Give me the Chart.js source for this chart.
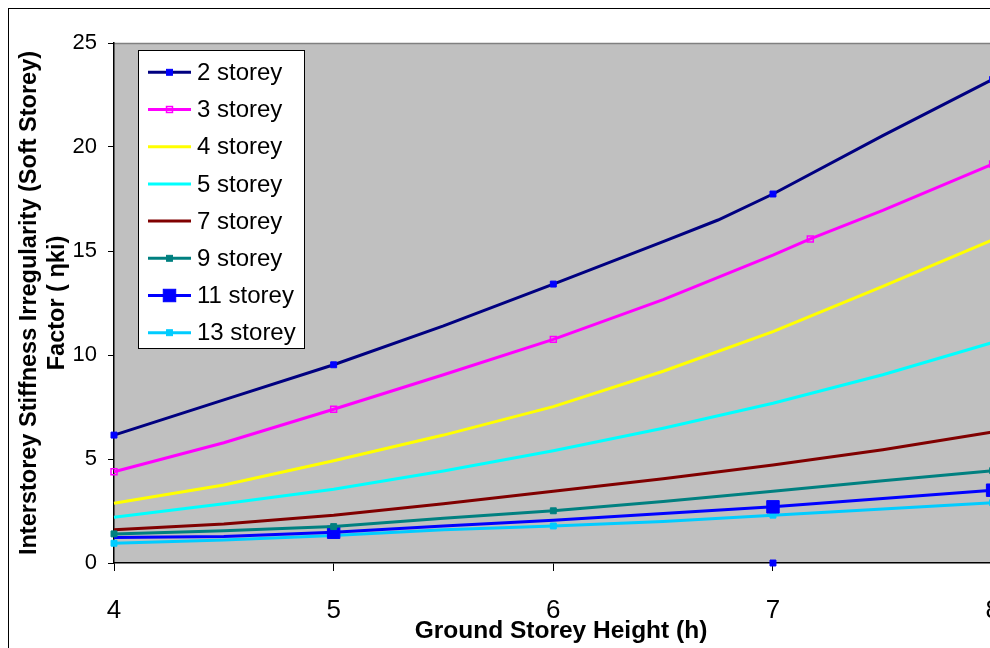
<!DOCTYPE html>
<html>
<head>
<meta charset="utf-8">
<script src="https://cdn.jsdelivr.net/npm/chart.js@4/dist/chart.umd.min.js"></script>
<style>
  html, body { margin: 0; padding: 0; background: #ffffff; overflow: hidden; width: 990px; height: 648px; }
  canvas { display: block; }
</style>
</head>
<body>
<canvas id="c" width="1100" height="648"></canvas>
<script>
// ---- data ----
const xTicks = [4, 5, 6, 7, 8];
const xGrid = [4, 4.5, 5, 5.5, 6, 6.5, 7, 7.5, 8];

const x2 = [4, 4.5, 5, 5.5, 6, 6.5, 6.75, 7, 7.5, 8];
const y2 = [6.15, 7.84, 9.53, 11.4, 13.41, 15.45, 16.49, 17.74, 20.55, 23.25];

const x3 = [4, 4.5, 5, 5.5, 6, 6.5, 7, 7.17, 7.5, 8];
const y3 = [4.39, 5.78, 7.39, 9.05, 10.75, 12.66, 14.8, 15.58, 16.95, 19.18];

const y4 = [2.87, 3.75, 4.92, 6.15, 7.52, 9.22, 11.12, 13.3, 15.53];
const y5 = [2.2, 2.85, 3.55, 4.42, 5.4, 6.48, 7.68, 9.05, 10.6];
const y7 = [1.6, 1.88, 2.3, 2.85, 3.45, 4.05, 4.71, 5.45, 6.3];
const y9 = [1.4, 1.55, 1.75, 2.15, 2.51, 2.96, 3.45, 3.95, 4.44];
const y11 = [1.22, 1.28, 1.48, 1.78, 2.05, 2.38, 2.7, 3.1, 3.5];
const y13 = [0.95, 1.1, 1.32, 1.6, 1.78, 2.0, 2.3, 2.6, 2.9];

const strayX = [7];
const strayY = [0];

const seriesLabels = ['2 storey', '3 storey', '4 storey', '5 storey', '7 storey', '9 storey', '11 storey', '13 storey'];

// ---- helpers ----
const pts = (xs, ys) => xs.map((x, i) => ({ x: x, y: ys[i] }));
const FONT = "'Liberation Sans', Arial, sans-serif";

function makeSet(i, xs, ys, st) {
  const marks = st.markAt || [];
  return {
    label: seriesLabels[i],
    data: pts(xs, ys),
    borderColor: st.line,
    borderWidth: 3,
    backgroundColor: st.line,
    tension: 0,
    clip: false,
    order: st.order !== undefined ? st.order : 20 - i,
    pointStyle: 'rect',
    pointRadius: ctx => (marks.includes(ctx.raw && ctx.raw.x) ? st.r : 0),
    pointHoverRadius: ctx => (marks.includes(ctx.raw && ctx.raw.x) ? st.r : 0),
    pointBackgroundColor: st.fill,
    pointBorderColor: st.mark,
    pointBorderWidth: st.bw || 1,
    _legendMark: marks.length ? { r: st.r, fill: st.fill, stroke: st.mark, bw: st.bw || 1 } : null
  };
}

const datasets = [
  makeSet(0, x2, y2, { line: '#000080', mark: '#0000FF', fill: '#0000FF', r: 4.2, markAt: [4, 5, 6, 7, 8] }),
  makeSet(1, x3, y3, { line: '#FF00FF', mark: '#FF00FF', fill: 'rgba(0,0,0,0)', r: 4.2, bw: 1.5, markAt: [4, 5, 6, 7.17, 8] }),
  makeSet(2, xGrid, y4, { line: '#FFFF00' }),
  makeSet(3, xGrid, y5, { line: '#00FFFF' }),
  makeSet(4, xGrid, y7, { line: '#800000' }),
  makeSet(5, xGrid, y9, { line: '#008080', mark: '#008080', fill: '#008080', r: 4.2, markAt: [4, 5, 6, 8], order: 2 }),
  makeSet(6, xGrid, y11, { line: '#0000FF', mark: '#0000FF', fill: '#0000FF', r: 8.8, markAt: [5, 7, 8], order: 3 }),
  makeSet(7, xGrid, y13, { line: '#00CCFF', mark: '#00CCFF', fill: '#00CCFF', r: 4.2, markAt: [4, 5, 6, 7, 8], order: 4 }),
  {
    label: '',
    data: pts(strayX, strayY),
    showLine: false,
    clip: false,
    order: 0,
    pointStyle: 'rect',
    pointRadius: 4.2,
    pointBackgroundColor: '#0000FF',
    pointBorderColor: '#0000FF',
    _noLegend: true
  }
];

// background, frame and custom legend
const decor = {
  id: 'decor',
  beforeDraw(chart) {
    const { ctx, chartArea: a } = chart;
    ctx.save();
    ctx.fillStyle = '#ffffff';
    ctx.fillRect(0, 0, chart.width, chart.height);
    ctx.strokeStyle = '#000000';
    ctx.lineWidth = 1;
    ctx.strokeRect(8.5, 8.5, 3000, 3000);
    ctx.fillStyle = '#C0C0C0';
    ctx.fillRect(a.left, a.top, a.right - a.left, a.bottom - a.top);
    ctx.strokeStyle = '#808080';
    ctx.lineWidth = 1.5;
    ctx.beginPath();
    ctx.moveTo(a.left, a.top + 0.5);
    ctx.lineTo(a.right, a.top + 0.5);
    ctx.lineTo(a.right, a.bottom);
    ctx.stroke();
    ctx.restore();
  },
  afterDraw(chart) {
    const { ctx } = chart;
    ctx.save();
    const bx = 138.5, by = 50.5, bw = 166, bh = 298;
    ctx.fillStyle = '#ffffff';
    ctx.fillRect(bx, by, bw, bh);
    ctx.strokeStyle = '#000000';
    ctx.lineWidth = 1;
    ctx.strokeRect(bx, by, bw, bh);
    const items = chart.data.datasets.filter(d => !d._noLegend);
    items.forEach((d, i) => {
      const y = 72.3 + i * 37.2;
      ctx.strokeStyle = d.borderColor;
      ctx.lineWidth = 3;
      ctx.beginPath();
      ctx.moveTo(148, y);
      ctx.lineTo(191, y);
      ctx.stroke();
      const m = d._legendMark;
      if (m) {
        const s = m.r * Math.SQRT1_2;
        ctx.fillStyle = m.fill;
        ctx.fillRect(169.5 - s, y - s, 2 * s, 2 * s);
        ctx.strokeStyle = m.stroke;
        ctx.lineWidth = m.bw;
        ctx.strokeRect(169.5 - s, y - s, 2 * s, 2 * s);
      }
      ctx.fillStyle = '#000000';
      ctx.font = '24px ' + FONT;
      ctx.textBaseline = 'middle';
      ctx.textAlign = 'left';
      ctx.fillText(d.label, 197, y + 1);
    });
    ctx.restore();
  }
};

new Chart(document.getElementById('c'), {
  type: 'line',
  data: { datasets: datasets },
  plugins: [decor],
  options: {
    responsive: false,
    animation: false,
    devicePixelRatio: 1,
    layout: { padding: { left: 0, top: 43, right: 92, bottom: 0 } },
    plugins: { legend: { display: false }, tooltip: { enabled: false } },
    scales: {
      x: {
        type: 'linear',
        min: 4,
        max: 8.07,
        afterBuildTicks: s => { s.ticks = xTicks.map(v => ({ value: v })); },
        afterFit: s => { s.height = 85; },
        grid: { display: true, drawOnChartArea: false, drawTicks: true, tickLength: 8, tickColor: '#000000' },
        border: { display: true, color: '#000000', width: 1.5 },
        ticks: { color: '#000000', padding: 24, font: { family: FONT, size: 26 }, maxRotation: 0 },
        title: {
          display: true,
          text: 'Ground Storey Height (h)',
          color: '#000000',
          font: { family: FONT, size: 24.5, weight: 'bold' },
          padding: { top: 0, bottom: 2 }
        }
      },
      y: {
        type: 'linear',
        min: 0,
        max: 25,
        afterFit: s => { s.width = 114; },
        grid: { display: true, drawOnChartArea: false, drawTicks: true, tickLength: 6, tickColor: '#000000' },
        border: { display: true, color: '#000000', width: 1.5 },
        ticks: { stepSize: 5, color: '#000000', padding: 11, font: { family: FONT, size: 22 } },
        title: {
          display: true,
          text: ['Interstorey Stiffness Irregularity (Soft Storey)', 'Factor ( \u03B7ki)'],
          color: '#000000',
          font: { family: FONT, size: 23.5, weight: 'bold', lineHeight: 1.19 },
          padding: { top: 16, bottom: 0 }
        }
      }
    }
  }
});
</script>
</body>
</html>
